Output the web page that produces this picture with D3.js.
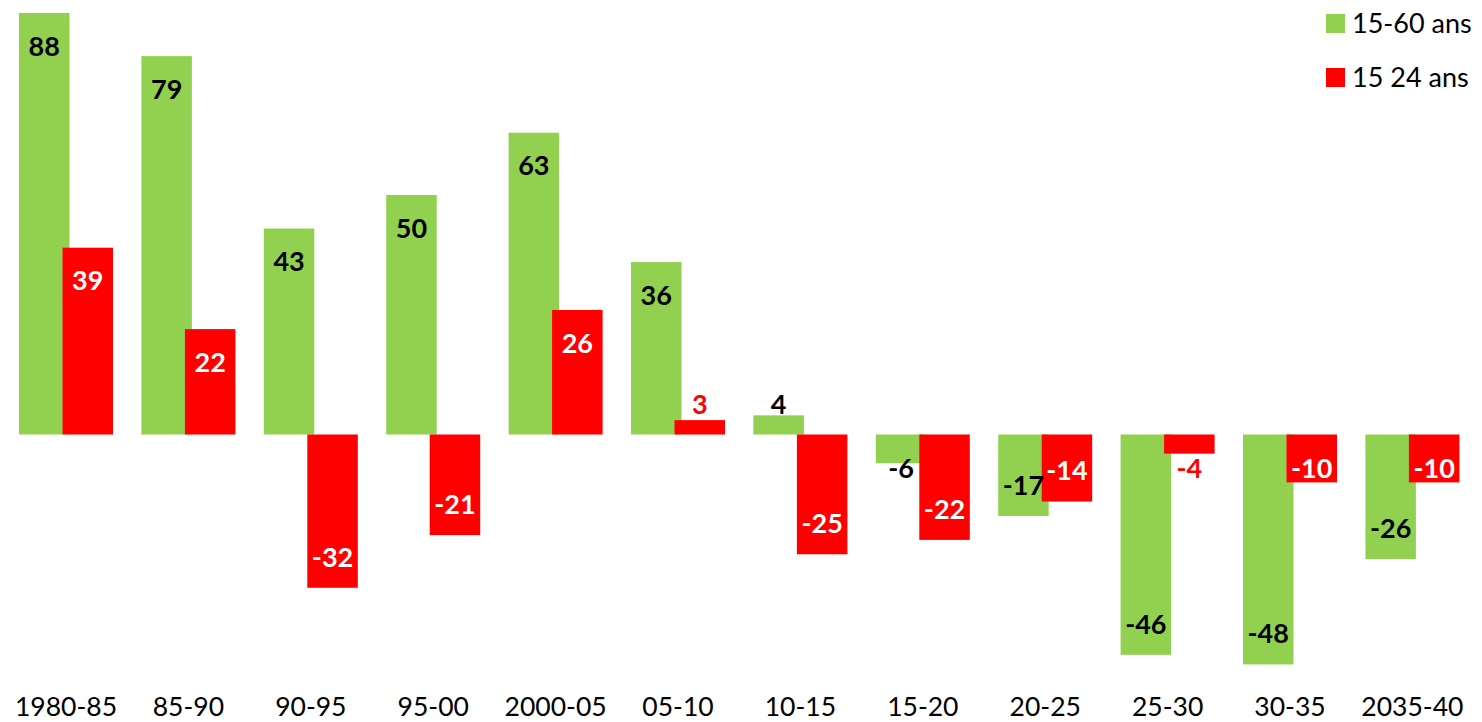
<!DOCTYPE html>
<html><head><meta charset="utf-8">
<script src="https://cdn.jsdelivr.net/npm/d3@7"></script>
<style>html,body{margin:0;padding:0;background:#fff;}svg{display:block;}</style>
</head><body><svg id="chart" width="1482" height="722"></svg>
<script>
const categories = ["1980-85","85-90","90-95","95-00","2000-05","05-10","10-15","15-20","20-25","25-30","30-35","2035-40"];
const series1Name = "15-60 ans";
const series1 = [88,79,43,50,63,36,4,-6,-17,-46,-48,-26];
const series2Name = "15 24 ans";
const series2 = [39,22,-32,-21,26,3,-25,-22,-14,-4,-10,-10];

const GREEN = "#92D050", RED = "#FF0000";
const FONT = "Lato, 'Open Sans', sans-serif";
const svg = d3.select("#chart");

const x = d3.scaleBand().domain(categories).range([4.8, 1473.6]).padding(0);
const y = d3.scaleLinear().domain([-50, 90]).range([674, 3.4]);
const y0 = y(0);
const bw = x.bandwidth();
const gOff = bw/2 - 47, rOff = bw/2 - 3.5, barW = 50.5;

const rows = categories.map((c,i)=>({c, g:series1[i], r:series2[i]}));

function barRect(sel, key, off, color){
  sel.selectAll("rect."+key).data(rows).join("rect")
    .attr("class", key)
    .attr("x", d=>x(d.c)+off)
    .attr("width", barW)
    .attr("y", d=>Math.min(y(d[key]), y0))
    .attr("height", d=>Math.abs(y(d[key])-y0))
    .attr("fill", color);
}
barRect(svg, "g", gOff, GREEN);
barRect(svg, "r", rOff, RED);

function labelY(v){
  const end = y(v);
  if (v >= 0) return Math.min(end + 33, y0 - 30);
  return Math.max(end - 31, y0 + 34);
}
function addLabels(key, off, insideColor, outsideColor){
  svg.append("g").selectAll("text").data(rows).join("text")
    .attr("x", d=>x(d.c)+off+barW/2)
    .attr("y", d=>labelY(d[key]))
    .attr("dy", "0.36em")
    .attr("text-anchor","middle")
    .attr("font-family", FONT)
    .attr("font-weight", "bold")
    .attr("font-size", 27)
    .attr("fill", d=> Math.abs(y(d[key])-y0) < 25 ? outsideColor : insideColor)
    .text(d=>d[key]);
}
addLabels("g", gOff, "#000", "#000");
addLabels("r", rOff, "#fff", RED);

// x axis labels
const xAxis = d3.axisBottom(x).tickSize(0).tickPadding(0);
const ax = svg.append("g").attr("transform","translate(0,716)").call(xAxis);
ax.select(".domain").remove();
ax.selectAll("text").attr("font-family", FONT).attr("font-size", 26.5).attr("fill","#000").attr("dy","0");

// legend
const legend = [{n:series1Name,c:GREEN},{n:series2Name,c:RED}];
const lg = svg.append("g").selectAll("g").data(legend).join("g")
  .attr("transform",(d,i)=>`translate(1326,${14+i*54})`);
lg.append("rect").attr("width",19).attr("height",19).attr("fill",d=>d.c);
lg.append("text").attr("x",26).attr("y",19).attr("font-family",FONT).attr("font-size",27).attr("fill","#000").text(d=>d.n);
</script></body></html>
